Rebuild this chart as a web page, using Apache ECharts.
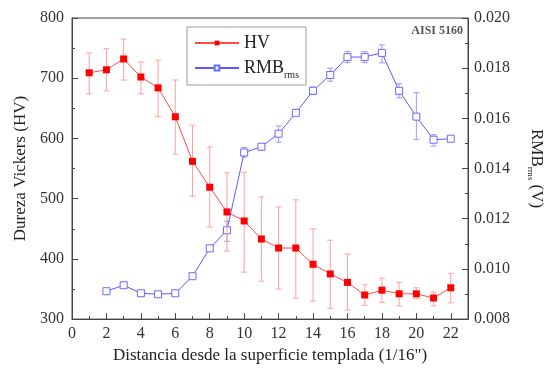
<!DOCTYPE html>
<html><head><meta charset="utf-8">
<script src="https://cdn.jsdelivr.net/npm/echarts@6/dist/echarts.min.js"></script>
<style>html,body{margin:0;padding:0;background:#fff}#c{width:553px;height:369px}</style>
</head><body><div id="c"></div>
<script>
const distances = [1,2,3,4,5,6,7,8,9,10,11,12,13,14,15,16,17,18,19,20,21,22];
const hv =      [709,714,732,702,684,636,562,519,478,463,433,418,418,391,375,361,340,348,342,342,335,352];
const hvHigh =  [742,749,765,727,730,697,622,586,543,544,503,486,498,450,431,408,357,368,361,352,345,376];
const hvLow =   [674,679,697,674,636,574,504,453,413,378,363,350,335,330,318,315,323,328,322,334,322,327];
const rmbX =    [2,3,4,5,6,7,8,9,10,11,12,13,14,15,16,17,18,19,20,21,22];
const rmb =     [0.00911,0.00935,0.00903,0.00899,0.00903,0.00971,0.01082,0.01154,0.01464,0.01487,0.01539,0.01622,0.01710,0.01773,0.01844,0.01845,0.01861,0.01710,0.01607,0.01515,0.01519];
const rmbHigh = [0.00920,0.00942,0.00910,0.00905,0.00910,0.00978,0.01090,0.01190,0.01484,0.01500,0.01570,0.01630,0.01725,0.01800,0.01866,0.01866,0.01893,0.01738,0.01702,0.01535,0.01525];
const rmbLow =  [0.00902,0.00928,0.00896,0.00893,0.00896,0.00964,0.01074,0.01110,0.01446,0.01474,0.01505,0.01614,0.01695,0.01748,0.01822,0.01822,0.01821,0.01682,0.01515,0.01490,0.01513];
const xTicks = [0,2,4,6,8,10,12,14,16,18,20,22];

const FONT = 'Liberation Serif';
const chart = echarts.init(document.getElementById('c'));

function errItem(color) {
  return function (params, api) {
    const x = api.value(0);
    const hi = api.coord([x, api.value(1)]);
    const lo = api.coord([x, api.value(2)]);
    const w = 3;
    const st = {stroke: color, lineWidth: 1};
    return {type: 'group', children: [
      {type: 'line', shape: {x1: hi[0], y1: hi[1], x2: lo[0], y2: lo[1]}, style: st},
      {type: 'line', shape: {x1: hi[0]-w, y1: hi[1], x2: hi[0]+w, y2: hi[1]}, style: st},
      {type: 'line', shape: {x1: lo[0]-w, y1: lo[1], x2: lo[0]+w, y2: lo[1]}, style: st}
    ]};
  };
}

const axisLineStyle = {color: '#444', width: 1};
chart.setOption({
  animation: false,
  textStyle: {fontFamily: FONT},
  grid: {left: 72, right: 82, top: 18, bottom: 49, show: true, borderColor: '#444', borderWidth: 1},
  legend: {
    left: 187, top: 27, orient: 'vertical',
    padding: [7, 7, 5, 7], itemGap: 7,
    borderColor: '#999', borderWidth: 1,
    itemWidth: 44, itemHeight: 6,
    data: ['HV', 'RMB'],
    formatter: function (n) { return n === 'HV' ? 'HV' : 'RMB{sub|rms}'; },
    textStyle: {fontFamily: FONT, fontSize: 18, color: '#222',
      rich: {sub: {fontFamily: FONT, fontSize: 10, color: '#222', verticalAlign: 'bottom', padding: [14, 0, 0, 0]}}}
  },
  graphic: [{type: 'text', right: 90, top: 25, style: {text: 'AISI 5160', font: 'bold 12px "Liberation Serif"', fill: '#555'}}],
  xAxis: {
    type: 'value', min: 0, max: 23, interval: 2,
    name: 'Distancia desde la superficie templada (1/16")', nameLocation: 'middle', nameGap: 26,
    nameTextStyle: {fontFamily: FONT, fontSize: 17, color: '#222'},
    axisLine: {lineStyle: axisLineStyle},
    axisTick: {inside: true, length: 6, lineStyle: axisLineStyle},
    minorTick: {show: true, splitNumber: 2, length: 3, lineStyle: {color: '#444'}},
    splitLine: {show: false},
    axisLabel: {fontFamily: FONT, fontSize: 16, color: '#333', margin: 7,
      formatter: function (v) { return xTicks.indexOf(v) >= 0 ? String(v) : ''; }}
  },
  yAxis: [{
    type: 'value', min: 300, max: 800, interval: 100, position: 'left',
    name: 'Dureza Vickers (HV)', nameLocation: 'middle', nameGap: 39,
    nameTextStyle: {fontFamily: FONT, fontSize: 17, color: '#222'},
    axisLine: {show: true, lineStyle: axisLineStyle},
    axisTick: {inside: true, length: 6, lineStyle: axisLineStyle},
    minorTick: {show: true, splitNumber: 2, length: 3, lineStyle: {color: '#444'}},
    splitLine: {show: false},
    axisLabel: {fontFamily: FONT, fontSize: 16, color: '#333', margin: 8}
  }, {
    type: 'value', min: 0.008, max: 0.020, interval: 0.002, position: 'right',
    name: 'RMB{sub|rms} (V)', nameLocation: 'middle', nameGap: 58, nameRotate: -90,
    nameTextStyle: {fontFamily: FONT, fontSize: 17, color: '#222',
      rich: {sub: {fontFamily: FONT, fontSize: 9, color: '#222', verticalAlign: 'bottom', padding: [12, 0, 0, 0]}}},
    axisLine: {show: true, lineStyle: axisLineStyle},
    axisTick: {inside: true, length: 6, lineStyle: axisLineStyle},
    minorTick: {show: true, splitNumber: 2, length: 3, lineStyle: {color: '#444'}},
    splitLine: {show: false},
    axisLabel: {fontFamily: FONT, fontSize: 16, color: '#333', margin: 6,
      formatter: function (v) { return v.toFixed(3); }}
  }],
  series: [
    {type: 'custom', name: 'rmbErr', yAxisIndex: 1, renderItem: errItem('#9a9aff'),
      data: rmbX.map((x, i) => [x, rmbHigh[i], rmbLow[i]]), z: 1, silent: true},
    {type: 'line', name: 'RMB', yAxisIndex: 1, data: rmbX.map((x, i) => [x, rmb[i]]),
      symbol: 'rect', symbolSize: 7, showAllSymbol: true,
      lineStyle: {color: '#5a5aff', width: 1},
      itemStyle: {color: '#fff', borderColor: '#6a6aff', borderWidth: 1}, z: 2},
    {type: 'custom', name: 'hvErr', yAxisIndex: 0, renderItem: errItem('#ffa0a0'),
      data: distances.map((x, i) => [x, hvHigh[i], hvLow[i]]), z: 3, silent: true},
    {type: 'line', name: 'HV', yAxisIndex: 0, data: distances.map((x, i) => [x, hv[i]]),
      symbol: 'rect', symbolSize: 7, showAllSymbol: true,
      lineStyle: {color: '#ff4a4a', width: 1},
      itemStyle: {color: '#ff0000', borderColor: '#ff0000', borderWidth: 0}, z: 4}
  ]
});
</script></body></html>
